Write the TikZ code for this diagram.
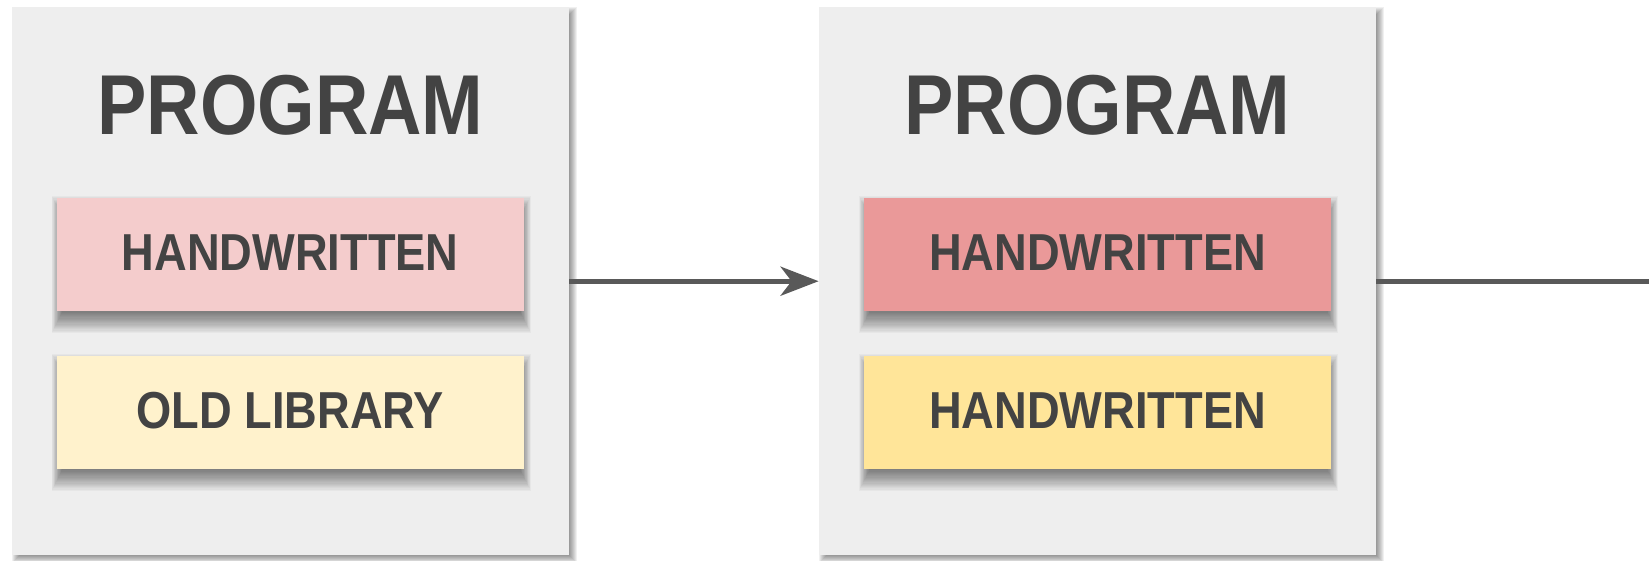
\documentclass[tikz,border=0pt]{standalone}
\usepackage{fontspec}
\usetikzlibrary{arrows.meta}
\newfontfamily\labelfont[FakeStretch=0.87]{Liberation Sans Bold}
\definecolor{panelgray}{HTML}{EEEEEE}
\definecolor{inktext}{HTML}{434343}
\definecolor{linkgray}{HTML}{595959}
\definecolor{redlight}{HTML}{F4CCCC}
\definecolor{redmid}{HTML}{EA9999}
\definecolor{yellowlight}{HTML}{FFF2CC}
\definecolor{yellowmid}{HTML}{FFE599}
\pgfdeclarelayer{paper}
\pgfdeclarelayer{panelshade}
\pgfdeclarelayer{panels}
\pgfdeclarelayer{partshade}
\pgfsetlayers{paper,panelshade,panels,partshade,main}
\tikzset{
  panel/.style={rectangle, fill=panelgray, draw=none, inner sep=0pt,
    minimum width=557pt, minimum height=548pt},
  title/.style={font=\labelfont\fontsize{85}{85}\selectfont, text=inktext, inner sep=0pt},
  part/.style={rectangle, draw=none, inner sep=0pt,
    minimum width=467pt, minimum height=113.5pt,
    text height=38pt, text depth=6pt,
    font=\labelfont\fontsize{52}{52}\selectfont, text=inktext},
  shadelayer/.style={fill=black, draw=none, fill opacity=#1},
  link/.style={draw=linkgray, line width=5.3pt},
  linktip/.style={-{Stealth[length=38pt, width=29pt, inset=11pt]}}
}
% soft shadow: stacked translucent rectangles around a node
% #1 node, #2 right offset, #3 downward offset, #4 list of spreads,
% #5 opacity of each layer, #6 sideways share of the spread
\newcommand\softshadow[6]{%
  \foreach \k in {#4}{%
    \fill[shadelayer=#5]
      ([xshift={(#2-#6*\k)*1pt}, yshift={(-#3+\k)*1pt}]#1.north west) rectangle
      ([xshift={(#2+#6*\k)*1pt}, yshift={(-#3-\k)*1pt}]#1.south east);
  }%
}
\begin{document}
\begin{tikzpicture}[x=1pt,y=-1pt]
  \begin{pgfonlayer}{paper}
    \fill[white] (0,0) rectangle (1649,560);
  \end{pgfonlayer}
  \useasboundingbox (0,0) rectangle (1649,560);

  \begin{pgfonlayer}{panels}
    \node[panel] (progA) at (290.3,281.2) {};
    \node[panel] (progB) at (1097.3,281.2) {};
  \end{pgfonlayer}

  % first program
  \node[title] (titleA) at (290.5,105) {PROGRAM};
  \node[part, fill=redlight] (handA) at (290.3,254.5) {HANDWRITTEN};
  \node[part, fill=yellowlight] (libA) at (290.3,412.3) {OLD LIBRARY};

  % second program
  \node[title] (titleB) at (1097.5,105) {PROGRAM};
  \node[part, fill=redmid] (handB) at (1097.5,254.5) {HANDWRITTEN};
  \node[part, fill=yellowmid] (handC) at (1097.5,412.3) {HANDWRITTEN};

  % shadows
  \begin{pgfonlayer}{panelshade}
    \softshadow{progA}{4}{4}{-4,-3,...,4}{0.06}{1}
    \softshadow{progB}{4}{4}{-4,-3,...,4}{0.06}{1}
  \end{pgfonlayer}
  \begin{pgfonlayer}{partshade}
    \foreach \p in {handA,libA,handB,handC}{
      \softshadow{\p}{1}{10}{-10,-8.8,...,12}{0.032}{0.5}
    }
  \end{pgfonlayer}

  % connectors
  \coordinate (exit) at (1649,281.2);
  \draw[link, linktip] (progA.east) -- (progB.west);
  \draw[link] (progB.east) -- (exit);
\end{tikzpicture}
\end{document}
